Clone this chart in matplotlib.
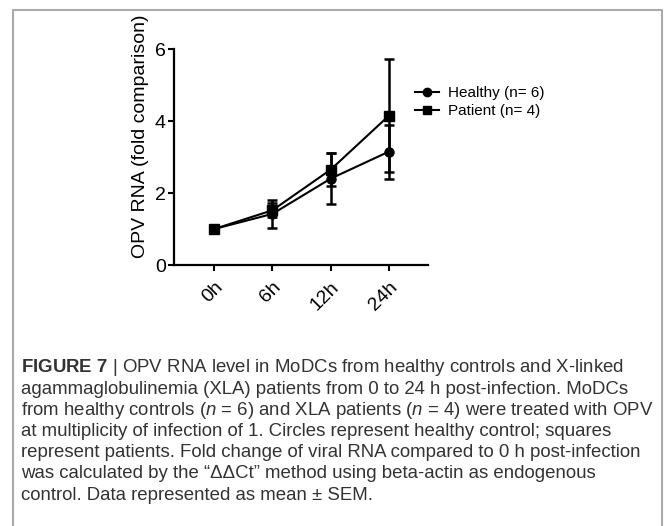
import matplotlib
matplotlib.use("Agg")
import matplotlib.pyplot as plt
from matplotlib.lines import Line2D

# 資料：各時間點的平均值與 SEM
time_labels = ["0h", "6h", "12h", "24h"]
healthy_mean = [1.0, 1.42, 2.40, 3.15]
healthy_sem = [0.0, 0.38, 0.71, 0.75]
patient_mean = [1.0, 1.52, 2.65, 4.15]
patient_sem = [0.0, 0.20, 0.46, 1.57]
legend_labels = ["Healthy (n= 6)", "Patient (n= 4)"]
y_ticks = [0, 2, 4, 6]

caption_lines = [
    r"$\bf{FIGURE\ 7}$ | OPV RNA level in MoDCs from healthy controls and X-linked",
    "agammaglobulinemia (XLA) patients from 0 to 24 h post-infection. MoDCs",
    r"from healthy controls ($\it{n}$ = 6) and XLA patients ($\it{n}$ = 4) were treated with OPV",
    "at multiplicity of infection of 1. Circles represent healthy control; squares",
    "represent patients. Fold change of viral RNA compared to 0 h post-infection",
    "was calculated by the \u201c\u0394\u0394Ct\u201d method using beta-actin as endogenous",
    "control. Data represented as mean \u00b1 SEM.",
]

W, H = 665, 526


def setup_fonts():
    plt.rcParams["font.family"] = ["Liberation Sans", "DejaVu Sans"]
    plt.rcParams["mathtext.fontset"] = "custom"
    plt.rcParams["mathtext.rm"] = "Liberation Sans"
    plt.rcParams["mathtext.it"] = "Liberation Sans:italic"
    plt.rcParams["mathtext.bf"] = "Liberation Sans:bold"


def plot_chart(fig):
    ax = fig.add_axes([174 / W, 1 - 265 / H, 254 / W, 216 / H])
    x = list(range(len(time_labels)))

    ax.errorbar(x, healthy_mean, yerr=healthy_sem, color="black", lw=1.5,
                marker="o", ms=6.5, elinewidth=1.8, capsize=3.5, capthick=1.8)
    ax.errorbar(x, patient_mean, yerr=patient_sem, color="black", lw=1.5,
                marker="s", ms=6.5, elinewidth=1.8, capsize=3.5, capthick=1.8)

    ax.set_xlim(-0.69, 3.67)
    ax.set_ylim(0, 6)
    ax.set_yticks(y_ticks)
    ax.set_xticks(x)
    ax.set_xticklabels(time_labels, rotation=45, ha="right", va="top",
                       rotation_mode="anchor")
    ax.tick_params(labelsize=14, width=1.5, length=4, color="black", pad=2)
    ax.tick_params(axis="x", pad=6)
    for side in ["top", "right"]:
        ax.spines[side].set_visible(False)
    for side in ["left", "bottom"]:
        ax.spines[side].set_linewidth(1.6)
    ax.set_ylabel("OPV RNA (fold comparison)", fontsize=14)
    ax.yaxis.set_label_coords(-0.10, 0.595)

    handles = [
        Line2D([], [], color="black", lw=1.5, marker="o", ms=6),
        Line2D([], [], color="black", lw=1.5, marker="s", ms=6),
    ]
    fig.legend(handles, legend_labels, loc="center left",
               bbox_to_anchor=(407 / W, 1 - 102 / H), frameon=False,
               fontsize=11, handlelength=1.6, handletextpad=0.6,
               labelspacing=0.25, borderpad=0)


def draw_caption(fig):
    for i, line in enumerate(caption_lines):
        fig.text(21 / W, 1 - (368 + 21.2 * i) / H, line, fontsize=13.4,
                 color="#333333", va="center", ha="left")


def draw_frame(fig):
    frame = Line2D([13 / W, 13 / W, 662 / W, 662 / W],
                   [-0.05, 1 - 10 / H, 1 - 10 / H, -0.05],
                   transform=fig.transFigure, color="#aaaaaa", lw=1.5)
    fig.add_artist(frame)


def main():
    setup_fonts()
    fig = plt.figure(figsize=(W / 100, H / 100), dpi=100)
    plot_chart(fig)
    draw_caption(fig)
    draw_frame(fig)
    fig.savefig("out.png", dpi=100)


if __name__ == "__main__":
    main()
